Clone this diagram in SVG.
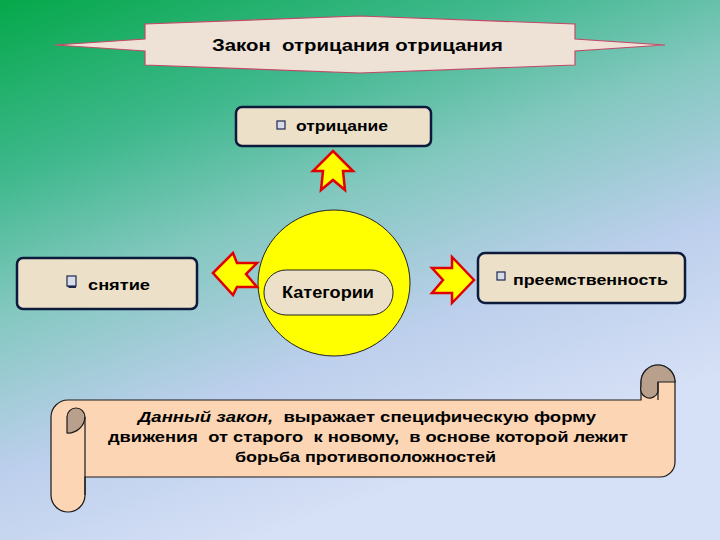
<svg xmlns="http://www.w3.org/2000/svg" width="720" height="540" viewBox="0 0 720 540">
<defs>
<linearGradient id="bg" gradientUnits="userSpaceOnUse" x1="0" y1="0" x2="200" y2="560">
<stop offset="0" stop-color="#05a84a"/>
<stop offset="0.28" stop-color="#3eb88c"/>
<stop offset="0.5" stop-color="#84c8c0"/>
<stop offset="0.75" stop-color="#bccfec"/>
<stop offset="1" stop-color="#d6e0f6"/>
</linearGradient>
<style>
.lbl{font-family:"Liberation Sans",Arial,sans-serif;font-weight:bold;fill:#000}
.box{fill:#ece0c8;stroke:#0c1a3c;stroke-width:2.5}
.arrow{fill:#ffff00;stroke:#e00000;stroke-width:2.5;stroke-linejoin:miter}
.chk{fill:#d8dce8;stroke:#1c2850;stroke-width:1.2}
.scroll{fill:#fcd5b4;stroke:#1a1a1a;stroke-width:1.2}
.curl{fill:#b9a08c;stroke:#1a1a1a;stroke-width:1.2}
</style>
</defs>
<rect width="720" height="540" fill="url(#bg)"/>

<g id="title">
<path d="M55,45 L145,39 L145,24 L360,16 L575,24 L575,39 L665,45 L575,51 L575,65 L360,73 L145,65 L145,51 Z" fill="#eee1d6" stroke="#c04a68" stroke-width="1.2"/>
<text class="lbl" x="212" y="51" font-size="17" textLength="291" lengthAdjust="spacingAndGlyphs" xml:space="preserve">Закон  отрицания отрицания</text>
</g>

<g id="node-otricanie">
<rect class="box" x="236" y="107" width="195" height="39" rx="6"/>
<rect class="chk" x="277" y="121" width="8" height="8"/>
<text class="lbl" x="296" y="131" font-size="15" textLength="92" lengthAdjust="spacingAndGlyphs">отрицание</text>
</g>

<g id="node-snyatie">
<rect class="box" x="17" y="258" width="180" height="51" rx="6"/>
<rect class="chk" x="67" y="276" width="9" height="10" fill="#e8ecf4"/>
<path d="M67,286 L76,286 L76,288 L69,288 Z" fill="#1c2850"/>
<text class="lbl" x="88" y="290" font-size="15" textLength="62" lengthAdjust="spacingAndGlyphs">снятие</text>
</g>

<g id="node-preemstvennost">
<rect class="box" x="478" y="253" width="207" height="50" rx="7"/>
<rect class="chk" x="497" y="272" width="8" height="8"/>
<text class="lbl" x="513" y="285" font-size="15" textLength="155" lengthAdjust="spacingAndGlyphs">преемственность</text>
</g>

<g id="node-kategorii">
<ellipse cx="334" cy="283" rx="76" ry="73" fill="#ffff00" stroke="#222" stroke-width="1"/>
<rect x="264" y="270" width="129" height="45" rx="22" fill="#ece0c8" stroke="#222" stroke-width="1"/>
<text class="lbl" x="282" y="298" font-size="16" textLength="92" lengthAdjust="spacingAndGlyphs">Категории</text>
</g>

<g id="connectors">
<path class="arrow" d="M333,151 L353,171 L343,171 L345,190 L333,180 L321,190 L323,171 L313,171 Z"/>
<path class="arrow" d="M213,273 L233,253 L237,263 L257,263 L246,274 L257,287 L237,287 L233,295 Z"/>
<path class="arrow" d="M474,280 L452,257 L452,268 L432,268 L443,280 L432,293 L452,293 L452,303 Z"/>
</g>

<g id="scroll">
<path class="scroll" d="M68,400 L641,400 L641,382 A17,17 0 0 1 675,382 L675,462 A15,15 0 0 1 660,477 L85,477 L85,495 A17,17 0 0 1 51,495 L51,417 A17,17 0 0 1 68,400 Z"/>
<path class="curl" d="M641,382 A17,17 0 0 1 675,382 L658,382 L658,392 A8.5,8.5 0 0 1 641,386 Z"/>
<path d="M658,382 L658,400" fill="none" stroke="#1a1a1a" stroke-width="1.2"/>
<path class="curl" d="M67,433 L67,417 A9,9 0 0 1 85,417 A17,17 0 0 1 67,433 Z"/>
<path d="M85,417 L85,495" fill="none" stroke="#1a1a1a" stroke-width="1.2"/>
<text class="lbl" font-size="15" xml:space="preserve" x="138" y="422" textLength="458" lengthAdjust="spacingAndGlyphs"><tspan font-style="italic">Данный закон,</tspan>  выражает специфическую форму</text>
<text class="lbl" font-size="15" xml:space="preserve" x="108" y="442" textLength="520" lengthAdjust="spacingAndGlyphs">движения  от старого  к новому,  в основе которой лежит</text>
<text class="lbl" font-size="15" x="235" y="462" textLength="261" lengthAdjust="spacingAndGlyphs">борьба противоположностей</text>
</g>
</svg>
